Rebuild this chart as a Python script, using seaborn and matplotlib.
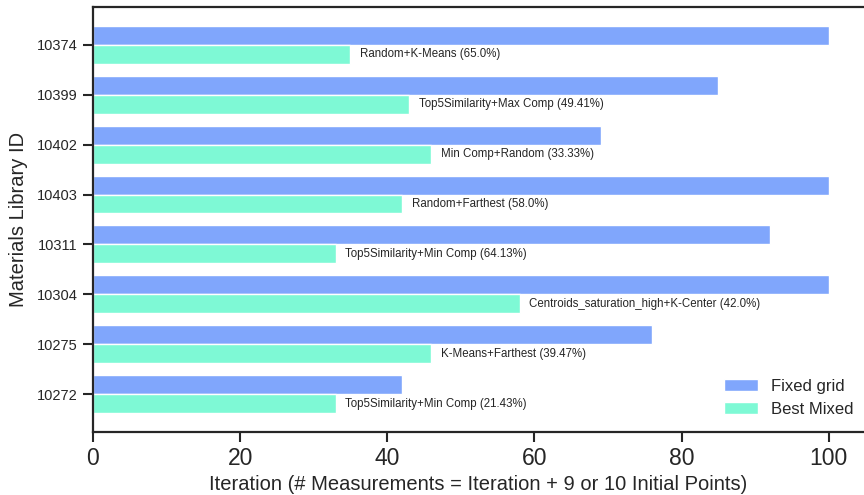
import matplotlib
matplotlib.use("Agg")
import matplotlib.pyplot as plt
import pandas as pd
import seaborn as sns

# Materials libraries and iteration counts for each approach
library_ids = ["10374", "10399", "10402", "10403", "10311", "10304", "10275", "10272"]
fixed_grid = [100, 85, 69, 100, 92, 100, 76, 42]
best_mixed = [35, 43, 46, 42, 33, 58, 46, 33]
best_strategy = [
    "Random+K-Means",
    "Top5Similarity+Max Comp",
    "Min Comp+Random",
    "Random+Farthest",
    "Top5Similarity+Min Comp",
    "Centroids_saturation_high+K-Center",
    "K-Means+Farthest",
    "Top5Similarity+Min Comp",
]
series_names = ["Fixed grid", "Best Mixed"]
colors = ["#80a6fc", "#7ef9d5"]

df = pd.DataFrame({
    "Library": library_ids * 2,
    "Iteration": fixed_grid + best_mixed,
    "Method": [series_names[0]] * len(library_ids) + [series_names[1]] * len(library_ids),
})

sns.set_theme(style="ticks")
plt.rcParams["font.family"] = ["Liberation Sans", "DejaVu Sans"]
text_color = "#262626"

fig = plt.figure(figsize=(8.64, 4.95), dpi=100)
ax = fig.add_axes([0.1076, 0.1273, 0.8924, 0.8586])

sns.barplot(
    data=df, y="Library", x="Iteration", hue="Method", order=library_ids,
    hue_order=series_names, palette=colors, saturation=1, orient="h", width=0.76,
    edgecolor="white", linewidth=1, ax=ax,
)

# Annotate the mixed-strategy bars with the strategy and its reduction in iterations
labels = []
for fg, bm, name in zip(fixed_grid, best_mixed, best_strategy):
    pct = round((fg - bm) / fg * 100, 2)
    labels.append(f"{name} ({pct}%)")
ax.bar_label(ax.containers[1], labels=labels, padding=7, fontsize=8.3, color=text_color)

ax.set_xlim(0, 104.8)
ax.set_ylim(len(library_ids) - 1 + 0.76, -0.76)
ax.set_xticks([0, 20, 40, 60, 80, 100])

ax.set_xlabel("Iteration (# Measurements = Iteration + 9 or 10 Initial Points)",
              fontsize=14.5, color=text_color, labelpad=4)
ax.set_ylabel("Materials Library ID", fontsize=14.5, color=text_color, labelpad=6)
ax.tick_params(axis="x", labelsize=16.5, length=7.5, width=1.5, colors=text_color, pad=3)
ax.tick_params(axis="y", labelsize=10.5, length=7.5, width=1.5, colors=text_color)

for side in ["left", "bottom", "top"]:
    ax.spines[side].set_linewidth(1.6)
    ax.spines[side].set_color(text_color)
ax.spines["right"].set_visible(False)

leg = ax.legend(loc="lower right", frameon=False, fontsize=12,
                bbox_to_anchor=(1.006, 0.0))
for t in leg.get_texts():
    t.set_color(text_color)

fig.savefig("out.png", dpi=100)
